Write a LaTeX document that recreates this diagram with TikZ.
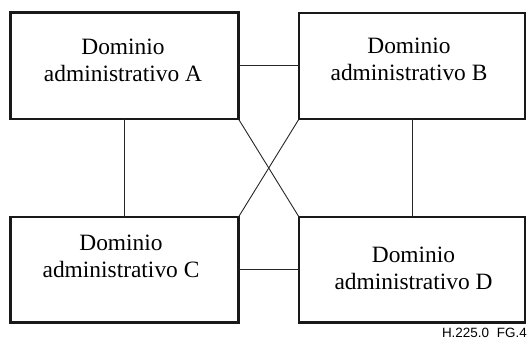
\documentclass[tikz,border=0pt]{standalone}
\usepackage{fontspec}
\setmainfont{Liberation Serif}
\newfontfamily\capfont{Liberation Sans}
\begin{document}
\begin{tikzpicture}[x=1bp,y=-1bp,
  dombox/.style={draw=black!90, line width=2.6bp, rectangle, inner sep=0pt, outer sep=0pt},
  domtext/.style={align=center, inner sep=0pt, font=\fontsize{23.5}{27}\selectfont},
  link/.style={draw=black!85, line width=0.9bp}]
\useasboundingbox (0,0) rectangle (529,344);
\node[dombox, minimum width=228bp, minimum height=106.5bp] (A) at (124.5,65.75) {};
\node[dombox, minimum width=226bp, minimum height=106bp] (B) at (412,66) {};
\node[dombox, minimum width=228bp, minimum height=105.5bp] (C) at (124.5,269.75) {};
\node[dombox, minimum width=226bp, minimum height=105.5bp] (D) at (412,269.75) {};
\node[domtext] (tA) at (123,60) {Dominio\\administrativo A};
\node[domtext] (tB) at (409,59) {Dominio\\administrativo B};
\node[domtext] (tC) at (121,256.5) {Dominio\\administrativo C};
\node[domtext] (tD) at (413.5,268.5) {Dominio\\administrativo D};
\draw[link] (A.east) -- (A.east -| B.west);
\draw[link] (C.east) -- (C.east -| D.west);
\draw[link] (A.south) -- (A.south |- C.north);
\draw[link] (B.south) -- (B.south |- D.north);
\draw[link] (A.south east) -- (D.north west);
\draw[link] (B.south west) -- (C.north east);
\node[anchor=east, inner sep=0pt, font=\capfont\fontsize{13.5}{15}\selectfont] (cap) at (527,333) {H.225.0\hspace{0.3em} FG.4};
\end{tikzpicture}
\end{document}
